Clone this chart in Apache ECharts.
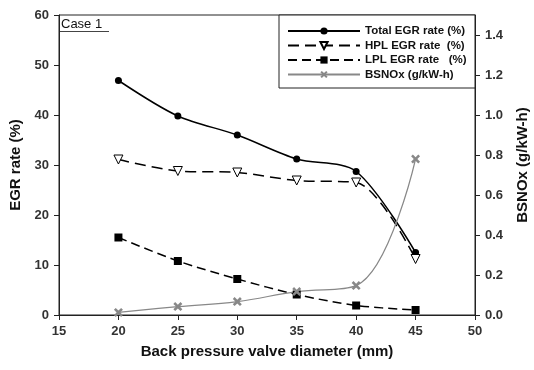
<!DOCTYPE html>
<html>
<head>
<meta charset="utf-8">
<script src="https://cdn.jsdelivr.net/npm/echarts@6/dist/echarts.min.js"></script>
<style>
html, body { margin: 0; padding: 0; background: #fff; }
#main { width: 534px; height: 370px; }
</style>
</head>
<body>
<div id="main"></div>
<script>
var diameters = [20, 25, 30, 35, 40, 45];
var totalEgr = [46.9, 39.8, 36.0, 31.2, 28.7, 12.5];
var hplEgr = [31.1, 28.8, 28.5, 26.9, 26.5, 11.2];
var lplEgr = [15.5, 10.8, 7.2, 4.1, 1.9, 1.0];
var bsnox = [0.013, 0.042, 0.067, 0.117, 0.147, 0.78];

function pairs(vals) {
	var out = [];
	for (var i = 0; i < diameters.length; i++) {
		out.push([diameters[i], vals[i]]);
	}
	return out;
}

var chart = echarts.init(document.getElementById('main'));
var font = 'Arial, "Liberation Sans", sans-serif';
var xShape = 'path://M2,0L5,3L8,0L10,2L7,5L10,8L8,10L5,7L2,10L0,8L3,5L0,2Z';
var tickLabel = { fontFamily: font, fontSize: 13, fontWeight: 'bold', color: '#333', margin: 10 };
var axisTitle = { fontFamily: font, fontSize: 15, fontWeight: 'bold', color: '#111' };

var option = {
	animation: false,
	backgroundColor: '#fff',
	grid: {
		left: 59, right: 59, top: 15, bottom: 55,
		outerBoundsMode: 'none',
		containLabel: false,
		show: true,
		borderColor: '#222',
		borderWidth: 1
	},
	legend: {
		orient: 'vertical',
		left: 287,
		top: 25,
		itemWidth: 72,
		itemHeight: 9,
		itemGap: 2.5,
		padding: 0,
		textStyle: { fontFamily: font, fontSize: 11.5, fontWeight: 'bold', color: '#111' },
		data: ['Total EGR rate (%)', 'HPL EGR rate  (%)', 'LPL EGR rate   (%)', 'BSNOx (g/kW-h)']
	},
	xAxis: {
		type: 'value',
		min: 15, max: 50, interval: 5,
		name: 'Back pressure valve diameter (mm)',
		nameLocation: 'middle',
		nameGap: 29,
		nameTextStyle: axisTitle,
		axisLine: { lineStyle: { color: '#222' } },
		axisTick: { length: 5, lineStyle: { color: '#222' } },
		axisLabel: tickLabel,
		splitLine: { show: false }
	},
	yAxis: [{
		type: 'value',
		min: 0, max: 60, interval: 10,
		name: 'EGR rate (%)',
		nameLocation: 'middle',
		nameGap: 25,
		nameTextStyle: axisTitle,
		axisLine: { show: true, lineStyle: { color: '#222' } },
		axisTick: { show: true, length: 5, lineStyle: { color: '#222' } },
		axisLabel: tickLabel,
		splitLine: { show: false }
	}, {
		type: 'value',
		min: 0, max: 1.5, interval: 0.2,
		position: 'right',
		name: 'BSNOx (g/kW-h)',
		nameLocation: 'middle',
		nameGap: 40,
		nameRotate: 90,
		nameTextStyle: axisTitle,
		axisLine: { show: true, lineStyle: { color: '#222' } },
		axisTick: { show: true, length: 5, lineStyle: { color: '#222' } },
		axisLabel: {
			fontFamily: font, fontSize: 13, fontWeight: 'bold', color: '#333', margin: 10,
			showMaxLabel: false,
			formatter: function (v) { return v.toFixed(1); }
		},
		splitLine: { show: false }
	}],
	graphic: [{
		type: 'rect',
		shape: { x: 279, y: 15, width: 196, height: 73 },
		style: { fill: '#fff', stroke: '#222', lineWidth: 1 },
		z: 0
	}, {
		type: 'text',
		left: 61, top: 18,
		style: { text: 'Case 1', font: '13px ' + font, fill: '#111' }
	}, {
		type: 'line',
		shape: { x1: 60, y1: 31.5, x2: 109, y2: 31.5 },
		style: { stroke: '#444', lineWidth: 1 }
	}],
	series: [{
		name: 'Total EGR rate (%)',
		type: 'line',
		smooth: 0.3,
		data: pairs(totalEgr),
		symbol: 'circle',
		symbolSize: 7,
		itemStyle: { color: '#000' },
		lineStyle: { color: '#000', width: 1.5 }
	}, {
		name: 'HPL EGR rate  (%)',
		type: 'line',
		smooth: 0.3,
		data: pairs(hplEgr),
		symbol: 'triangle',
		symbolRotate: 180,
		symbolSize: 9,
		itemStyle: { color: '#fff', borderColor: '#000', borderWidth: 1 },
		lineStyle: { color: '#000', width: 1.5, type: [11, 6] }
	}, {
		name: 'LPL EGR rate   (%)',
		type: 'line',
		smooth: 0.3,
		data: pairs(lplEgr),
		symbol: 'rect',
		symbolSize: 8,
		itemStyle: { color: '#000' },
		lineStyle: { color: '#000', width: 1.5, type: [9, 5] }
	}, {
		name: 'BSNOx (g/kW-h)',
		type: 'line',
		yAxisIndex: 1,
		smooth: 0.4,
		data: pairs(bsnox),
		symbol: xShape,
		symbolSize: 9,
		itemStyle: { color: '#888' },
		lineStyle: { color: '#888', width: 1.2 }
	}]
};

chart.setOption(option);
</script>
</body>
</html>
